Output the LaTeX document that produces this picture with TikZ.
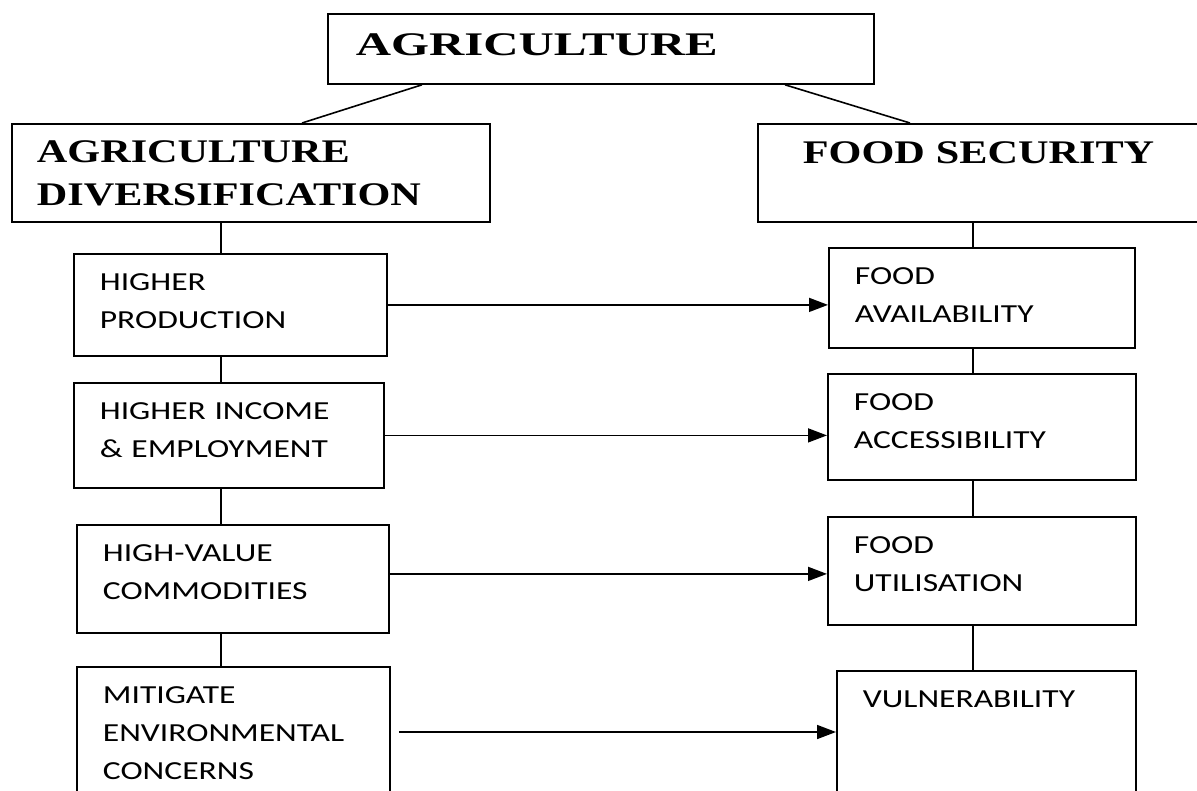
\documentclass[tikz,border=0pt]{standalone}
\usepackage{fontspec}
\newfontfamily\headfont{Liberation Serif}[FakeStretch=1.28]
\newfontfamily\titlefont{Liberation Serif}[FakeStretch=1.48]
\newfontfamily\boxfont{Carlito}[FakeStretch=1.29]
\usetikzlibrary{arrows.meta}

\tikzset{
  hbox/.style={draw, line width=1.8pt, anchor=north west, inner ysep=0pt, align=left,
    font=\headfont\bfseries\fontsize{33}{43}\selectfont},
  sbox/.style={draw, line width=1.8pt, anchor=north west, inner xsep=26pt, inner ysep=0pt,
    text height=37pt, align=left, font=\boxfont\fontsize{26}{38}\selectfont},
  lcol/.style={sbox, text width=261pt},
  rcol/.style={sbox, text width=255pt},
  link/.style={line width=1.6pt},
  arr/.style={line width=1.6pt, -{Triangle[length=19pt,width=14pt]}}
}

\begin{document}
\begin{tikzpicture}[x=1pt,y=-1pt]

\useasboundingbox (0,0) rectangle (1197,790);
\clip (0,0) rectangle (1197,790);

% headings
\node[hbox, inner xsep=28pt, text width=490pt, text height=42pt, text depth=28pt,
  font=\titlefont\bfseries\fontsize{33}{43}\selectfont] (agri) at (327,13) {AGRICULTURE};
\node[hbox, inner xsep=25pt, text width=428pt, text height=39pt, text depth=59pt] (agridiv) at (11,123) {AGRICULTURE\\DIVERSIFICATION};
\node[hbox, inner xsep=45pt, text width=420pt, text height=40pt, text depth=58pt] (foodsec) at (757,123) {FOOD SECURITY};

% left column
\node[lcol, text depth=65pt] (hp) at (73,253) {HIGHER\\PRODUCTION};
\node[lcol, text width=258pt, text depth=68pt] (hi) at (73,382) {HIGHER INCOME\\\& EMPLOYMENT};
\node[lcol, text width=260pt, text depth=71pt] (hv) at (76,524) {HIGH-VALUE\\COMMODITIES};
\node[lcol, text depth=200pt] (mec) at (76,666) {MITIGATE\\ENVIRONMENTAL\\CONCERNS};

% right column
\node[rcol, text width=254pt, text depth=63pt] (fa) at (828,247) {FOOD\\AVAILABILITY};
\node[rcol, text width=256pt, text depth=69pt] (fac) at (827,373) {FOOD\\ACCESSIBILITY};
\node[rcol, text width=256pt, text depth=71pt] (fu) at (827,516) {FOOD\\UTILISATION};
\node[rcol, text width=247pt, text depth=200pt] (v) at (836,670) {VULNERABILITY};

\coordinate (lspine) at (221,0);
\coordinate (rspine) at (973,0);

% tree links
\draw[link] ([xshift=95pt]agri.south west) -- ([xshift=291pt]agridiv.north west);
\draw[link] ([xshift=458pt]agri.south west) -- ([xshift=153pt]foodsec.north west);

\draw[link] (agridiv.south -| lspine) -- (hp.north -| lspine);
\draw[link] (hp.south -| lspine) -- (hi.north -| lspine);
\draw[link] (hi.south -| lspine) -- (hv.north -| lspine);
\draw[link] (hv.south -| lspine) -- (mec.north -| lspine);

\draw[link] (foodsec.south -| rspine) -- (fa.north -| rspine);
\draw[link] (fa.south -| rspine) -- (fac.north -| rspine);
\draw[link] (fac.south -| rspine) -- (fu.north -| rspine);
\draw[link] (fu.south -| rspine) -- (v.north -| rspine);

% arrows across
\draw[arr] (hp.east) -- (hp.east -| fa.west);
\draw[arr] (hi.east) -- (hi.east -| fac.west);
\draw[arr] ([yshift=5pt]hv.east) -- ([yshift=5pt]hv.east -| fu.west);
\draw[arr] ([xshift=8pt,yshift=-66pt]mec.north east) -- ([yshift=-66pt]mec.north east -| v.west);

\end{tikzpicture}
\end{document}
